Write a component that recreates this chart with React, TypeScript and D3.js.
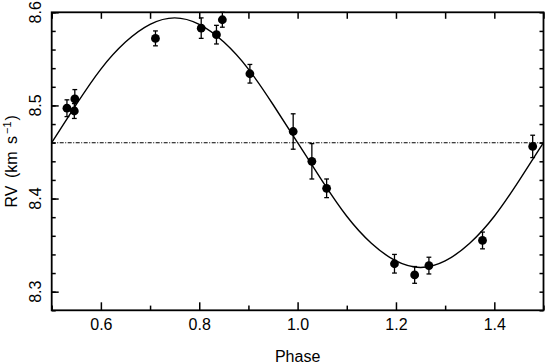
import React, { useEffect, useRef } from 'react';
import * as d3 from 'd3';

// observed radial velocities folded on phase
const phases = [0.531, 0.546, 0.547, 0.711, 0.804, 0.835, 0.847, 0.903, 0.991, 1.029, 1.059, 1.197, 1.238, 1.267, 1.376, 1.478];
const rv = [8.497, 8.494, 8.507, 8.572, 8.583, 8.576, 8.592, 8.534, 8.472, 8.440, 8.411, 8.330, 8.318, 8.328, 8.355, 8.456];
const rvErr = [0.009, 0.008, 0.010, 0.008, 0.011, 0.010, 0.008, 0.010, 0.019, 0.019, 0.010, 0.010, 0.009, 0.009, 0.009, 0.012];

// orbit fit, every 0.05 in phase
const fitPhase = [0.5, 0.55, 0.6, 0.65, 0.7, 0.75, 0.8, 0.85, 0.9, 0.95, 1.0, 1.05, 1.1, 1.15, 1.2, 1.25, 1.3, 1.35, 1.4, 1.45, 1.5];
const fitRv = [8.460, 8.501, 8.539, 8.568, 8.587, 8.594, 8.587, 8.568, 8.539, 8.501, 8.460, 8.419, 8.381, 8.352, 8.333, 8.326, 8.333, 8.352, 8.381, 8.419, 8.460];

const systemicRv = 8.46;

const xTicks = [0.6, 0.8, 1.0, 1.2, 1.4];
const xTickLabels = ['0.6', '0.8', '1.0', '1.2', '1.4'];
const yTicks = [8.3, 8.4, 8.5, 8.6];
const yTickLabels = ['8.3', '8.4', '8.5', '8.6'];

const App = () => {
  const chartRef = useRef(null);

  useEffect(() => {
    const W = 545;
    const H = 363;
    const margin = { top: 12.3, right: 1.5, bottom: 52.7, left: 51.7 };
    const width = W - margin.left - margin.right;
    const height = H - margin.top - margin.bottom;
    const font = '"Liberation Sans", Arial, Helvetica, sans-serif';

    const svg = d3
      .select(chartRef.current)
      .append('svg')
      .attr('width', W)
      .attr('height', H)
      .style('display', 'block')
      .style('background', '#fff');

    const g = svg.append('g').attr('transform', `translate(${margin.left},${margin.top})`);

    const x = d3.scaleLinear().domain([0.5, 1.5]).range([0, width]);
    const y = d3.scaleLinear().domain([8.28, 8.6]).range([height, 0]);

    const minorX = d3.range(0.5, 1.501, 0.1).map((d) => +d.toFixed(2));
    const minorY = d3.range(8.28, 8.601, 0.02).map((d) => +d.toFixed(2));

    const styleAxis = (sel) => {
      sel.select('.domain').remove();
      sel.selectAll('line').attr('stroke', '#000').attr('stroke-width', 1.5);
    };

    // bottom: major + minor ticks, pointing in
    g.append('g')
      .attr('transform', `translate(0,${height})`)
      .call(d3.axisBottom(x).tickValues(minorX.filter((d) => !xTicks.some((t) => Math.abs(t - d) < 1e-6))).tickSize(-4.7).tickFormat(() => ''))
      .call(styleAxis);
    g.append('g')
      .attr('transform', `translate(0,${height})`)
      .call(d3.axisBottom(x).tickValues(xTicks).tickSize(-8).tickPadding(8.5).tickFormat((d, i) => xTickLabels[i]))
      .call(styleAxis)
      .call((a) => a.selectAll('text').attr('font-family', font).attr('font-size', 16).attr('fill', '#000'));

    // top: every 0.1
    g.append('g')
      .call(d3.axisTop(x).tickValues(minorX).tickSize(-6.5).tickFormat(() => ''))
      .call(styleAxis);

    // left
    g.append('g')
      .call(d3.axisLeft(y).tickValues(minorY).tickSize(-4).tickFormat(() => ''))
      .call(styleAxis);
    g.append('g')
      .call(d3.axisLeft(y).tickValues(yTicks).tickSize(-7).tickFormat(() => ''))
      .call(styleAxis);

    // right
    g.append('g')
      .attr('transform', `translate(${width},0)`)
      .call(d3.axisRight(y).tickValues(minorY).tickSize(-4).tickFormat(() => ''))
      .call(styleAxis);

    // rotated y tick labels
    g.selectAll('.ylab')
      .data(yTicks)
      .enter()
      .append('text')
      .attr('class', 'ylab')
      .attr('transform', (d) => `translate(-10.5,${y(d)}) rotate(-90)`)
      .attr('text-anchor', 'middle')
      .attr('font-family', font)
      .attr('font-size', 16)
      .text((d, i) => yTickLabels[i]);

    // frame
    g.append('rect')
      .attr('x', 0)
      .attr('y', 0)
      .attr('width', width)
      .attr('height', height)
      .attr('fill', 'none')
      .attr('stroke', '#000')
      .attr('stroke-width', 1.8);

    // systemic velocity
    g.append('line')
      .attr('x1', 0)
      .attr('x2', width)
      .attr('y1', y(systemicRv))
      .attr('y2', y(systemicRv))
      .attr('stroke', '#000')
      .attr('stroke-width', 1.1)
      .attr('stroke-dasharray', '4,1.5,1,1.5');

    // fit
    const line = d3
      .line()
      .x((d, i) => x(fitPhase[i]))
      .y((d) => y(d))
      .curve(d3.curveNatural);
    g.append('path')
      .attr('d', line(fitRv))
      .attr('fill', 'none')
      .attr('stroke', '#000')
      .attr('stroke-width', 1.4);

    // error bars
    const pts = phases.map((p, i) => ({ p, v: rv[i], e: rvErr[i] }));
    const cap = 2.4;
    const eb = g.selectAll('.eb').data(pts).enter().append('g').attr('class', 'eb').attr('stroke', '#000').attr('stroke-width', 1.3);
    eb.append('line')
      .attr('x1', (d) => x(d.p))
      .attr('x2', (d) => x(d.p))
      .attr('y1', (d) => y(d.v - d.e))
      .attr('y2', (d) => y(d.v + d.e));
    eb.append('line')
      .attr('x1', (d) => x(d.p) - cap)
      .attr('x2', (d) => x(d.p) + cap)
      .attr('y1', (d) => y(d.v + d.e))
      .attr('y2', (d) => y(d.v + d.e));
    eb.append('line')
      .attr('x1', (d) => x(d.p) - cap)
      .attr('x2', (d) => x(d.p) + cap)
      .attr('y1', (d) => y(d.v - d.e))
      .attr('y2', (d) => y(d.v - d.e));

    g.selectAll('.pt')
      .data(pts)
      .enter()
      .append('circle')
      .attr('class', 'pt')
      .attr('cx', (d) => x(d.p))
      .attr('cy', (d) => y(d.v))
      .attr('r', 4.4)
      .attr('fill', '#000');

    // axis titles
    svg.append('text')
      .attr('x', margin.left + width / 2)
      .attr('y', 361.5)
      .attr('text-anchor', 'middle')
      .attr('font-family', font)
      .attr('font-size', 16)
      .text('Phase');

    const yt = svg.append('text')
      .attr('transform', `translate(17,${margin.top + height / 2}) rotate(-90)`)
      .attr('text-anchor', 'middle')
      .attr('font-family', font)
      .attr('font-size', 16)
      .attr('word-spacing', 3);
    yt.append('tspan').text('RV (km s');
    yt.append('tspan').attr('dx', 2).attr('dy', -6).attr('font-size', 11).text('−1');
    yt.append('tspan').attr('dx', 1).attr('dy', 6).text(')');

    return () => {
      d3.select(chartRef.current).select('svg').remove();
    };
  }, []);

  return <div ref={chartRef} style={{ position: 'absolute', left: 0, top: 0 }} />;
};

export default App;
